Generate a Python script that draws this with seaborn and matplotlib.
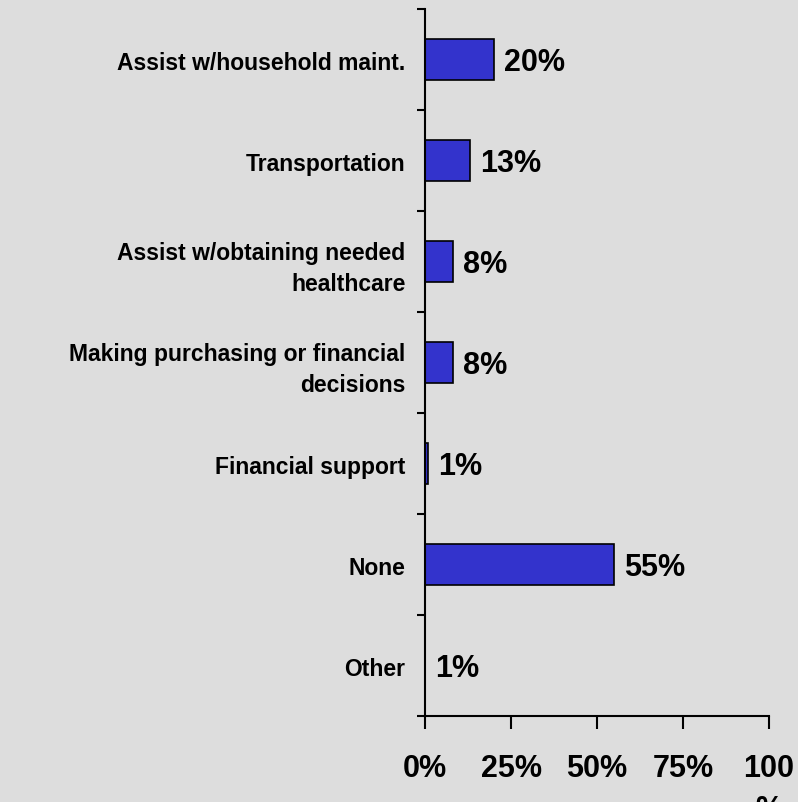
import matplotlib
matplotlib.use("Agg")
import matplotlib.pyplot as plt
import seaborn as sns
import numpy as np
import pandas as pd

categories = [
    "Assist w/household maint.",
    "Transportation",
    "Assist w/obtaining needed\nhealthcare",
    "Making purchasing or financial\ndecisions",
    "Financial support",
    "None",
    "Other",
]
values = [20, 13, 8, 8, 1, 55, 0]
value_labels = ["20%", "13%", "8%", "8%", "1%", "55%", "1%"]
xticks = [0, 25, 50, 75, 100]
xtick_labels = ["0%", "25%", "50%", "75%", "100\n%"]

bg = "#DDDDDD"
sns.set_style("ticks")
plt.rcParams["font.family"] = ["Liberation Sans", "DejaVu Sans"]
plt.rcParams["text.color"] = "black"
plt.rcParams["xtick.color"] = "black"
plt.rcParams["ytick.color"] = "black"
plt.rcParams["axes.edgecolor"] = "black"

df = pd.DataFrame({"category": categories, "value": values})

fig = plt.figure(figsize=(7.98, 8.03), dpi=100, facecolor=bg)
ax = fig.add_axes([0.5326, 0.1071, 0.4311, 0.8804])
ax.set_facecolor(bg)

sns.barplot(data=df, x="value", y="category", orient="h", color="#3333CC",
            saturation=1, width=0.4, edgecolor="black", linewidth=1.2, ax=ax)

for i, (v, lab) in enumerate(zip(values, value_labels)):
    ax.text(v + 2.9, i + 0.02, lab, va="center", ha="left", fontsize=22,
            fontweight="bold", color="black")

ax.set_xlim(0, 100)
ax.set_ylim(6.5, -0.5)
ax.set_xticks(xticks)
ax.set_xticklabels(xtick_labels, fontsize=22, fontweight="bold", va="top",
                   linespacing=1.45)
ax.tick_params(axis="x", direction="out", length=9, width=1.5, pad=18)

ax.set_yticks(range(len(categories)))
ax.set_yticklabels(categories, fontsize=16.5, fontweight="bold", ha="right",
                   linespacing=1.45)
ax.set_yticks(np.arange(-0.5, len(categories), 1.0), minor=True)
ax.tick_params(axis="y", which="major", length=0, pad=14)
ax.tick_params(axis="y", which="minor", length=6, width=1.5, direction="out")

ax.set_xlabel("")
ax.set_ylabel("")
sns.despine(ax=ax)
for s in ["left", "bottom"]:
    ax.spines[s].set_linewidth(1.5)

fig.savefig("out.png", dpi=100, facecolor=bg)
